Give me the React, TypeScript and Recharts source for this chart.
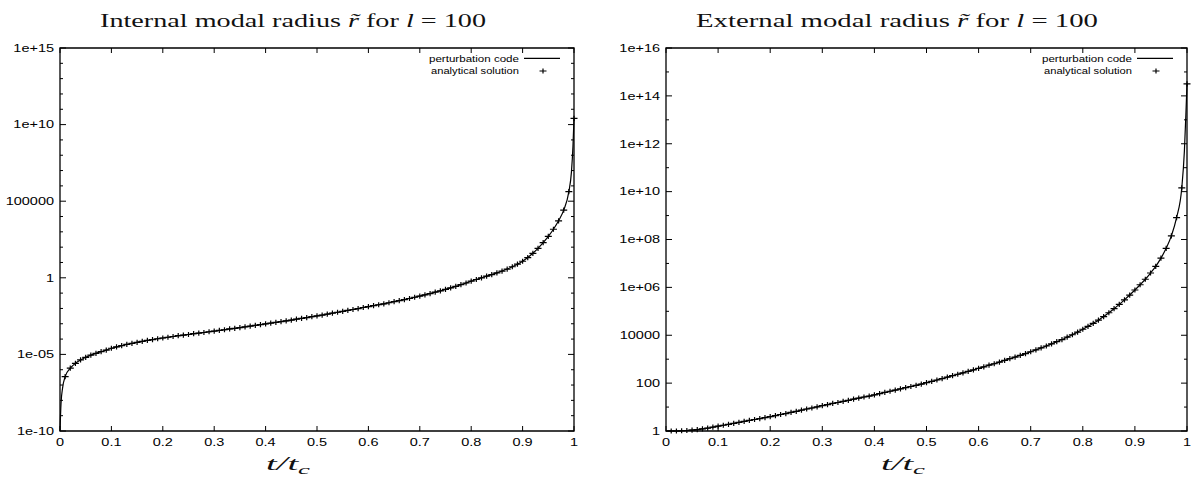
import { ComposedChart, Line, Scatter, XAxis, YAxis, ReferenceArea } from 'recharts'

// t / t_c sampling of the analytical solution markers
const T_GRID = [
  0.01, 0.02, 0.03, 0.04, 0.05, 0.06, 0.07, 0.08, 0.09, 0.1,
  0.11, 0.12, 0.13, 0.14, 0.15, 0.16, 0.17, 0.18, 0.19, 0.2,
  0.21, 0.22, 0.23, 0.24, 0.25, 0.26, 0.27, 0.28, 0.29, 0.3,
  0.31, 0.32, 0.33, 0.34, 0.35, 0.36, 0.37, 0.38, 0.39, 0.4,
  0.41, 0.42, 0.43, 0.44, 0.45, 0.46, 0.47, 0.48, 0.49, 0.5,
  0.51, 0.52, 0.53, 0.54, 0.55, 0.56, 0.57, 0.58, 0.59, 0.6,
  0.61, 0.62, 0.63, 0.64, 0.65, 0.66, 0.67, 0.68, 0.69, 0.7,
  0.71, 0.72, 0.73, 0.74, 0.75, 0.76, 0.77, 0.78, 0.79, 0.8,
  0.81, 0.82, 0.83, 0.84, 0.85, 0.86, 0.87, 0.88, 0.89, 0.9,
  0.91, 0.92, 0.93, 0.94, 0.95, 0.96, 0.97, 0.98, 0.99, 1,
]

// log10 of internal modal radius
const INTERNAL_LOG = [
  -6.45, -5.9, -5.58, -5.36, -5.19, -5.05, -4.93, -4.82, -4.72, -4.6,
  -4.51, -4.43, -4.35, -4.28, -4.21, -4.15, -4.09, -4.03, -3.98, -3.93,
  -3.88, -3.83, -3.78, -3.74, -3.7, -3.65, -3.61, -3.57, -3.52, -3.48,
  -3.43, -3.39, -3.34, -3.3, -3.25, -3.2, -3.16, -3.11, -3.06, -3.01,
  -2.96, -2.91, -2.86, -2.81, -2.76, -2.7, -2.65, -2.6, -2.54, -2.49,
  -2.43, -2.37, -2.31, -2.25, -2.19, -2.13, -2.07, -2.01, -1.94, -1.88,
  -1.82, -1.76, -1.7, -1.63, -1.56, -1.49, -1.42, -1.35, -1.27, -1.19,
  -1.11, -1.03, -0.94, -0.85, -0.76, -0.66, -0.56, -0.45, -0.34, -0.22,
  -0.11, 0.0, 0.11, 0.21, 0.32, 0.44, 0.57, 0.72, 0.89, 1.08,
  1.32, 1.6, 1.92, 2.29, 2.7, 3.17, 3.72, 4.42, 5.62, 10.4,
]

// log10 of external modal radius
const EXTERNAL_LOG = [
  0.0, 0.0, 0.01, 0.02, 0.04, 0.06, 0.09, 0.12, 0.16, 0.2,
  0.24, 0.28, 0.32, 0.36, 0.4, 0.44, 0.48, 0.52, 0.56, 0.6,
  0.64, 0.69, 0.73, 0.78, 0.82, 0.87, 0.92, 0.96, 1.01, 1.06,
  1.1, 1.15, 1.19, 1.24, 1.28, 1.33, 1.37, 1.42, 1.46, 1.51,
  1.56, 1.61, 1.66, 1.71, 1.76, 1.81, 1.86, 1.91, 1.96, 2.02,
  2.07, 2.13, 2.19, 2.25, 2.31, 2.37, 2.43, 2.49, 2.55, 2.62,
  2.68, 2.75, 2.81, 2.88, 2.95, 3.02, 3.09, 3.16, 3.23, 3.31,
  3.39, 3.47, 3.55, 3.64, 3.73, 3.82, 3.92, 4.02, 4.13, 4.25,
  4.37, 4.5, 4.63, 4.78, 4.94, 5.11, 5.29, 5.48, 5.68, 5.89,
  6.11, 6.34, 6.6, 6.88, 7.22, 7.63, 8.15, 8.91, 10.16, 14.5,
]

// extra points of the perturbation-code curve near the ends
const INTERNAL_HEAD_T = [0, 0.002, 0.005]
const INTERNAL_HEAD_LOG = [-10, -8.2, -7.2]
const INTERNAL_TAIL_T = [0.995, 0.998]
const INTERNAL_TAIL_LOG = [6.9, 8.6]
const EXTERNAL_HEAD_T = [0]
const EXTERNAL_HEAD_LOG = [0]
const EXTERNAL_TAIL_T = [0.995, 0.998]
const EXTERNAL_TAIL_LOG = [11.7, 13.3]

const X_TICKS = [0, 0.1, 0.2, 0.3, 0.4, 0.5, 0.6, 0.7, 0.8, 0.9, 1]
const X_TICK_LABELS = ['0', '0.1', '0.2', '0.3', '0.4', '0.5', '0.6', '0.7', '0.8', '0.9', '1']

const INTERNAL_Y_TICKS = [
  1e-10, 1e-9, 1e-8, 1e-7, 1e-6, 1e-5, 1e-4, 1e-3, 1e-2, 1e-1, 1,
  10, 100, 1e3, 1e4, 1e5, 1e6, 1e7, 1e8, 1e9, 1e10, 1e11, 1e12, 1e13, 1e14, 1e15,
]
const INTERNAL_MAJOR = [1e-10, 1e-5, 1, 1e5, 1e10, 1e15]
const INTERNAL_MAJOR_LABELS = ['1e-10', '1e-05', '1', '100000', '1e+10', '1e+15']

const EXTERNAL_Y_TICKS = [
  1, 10, 100, 1e3, 1e4, 1e5, 1e6, 1e7, 1e8, 1e9, 1e10, 1e11, 1e12, 1e13, 1e14, 1e15, 1e16,
]
const EXTERNAL_MAJOR = [1, 100, 1e4, 1e6, 1e8, 1e10, 1e12, 1e14, 1e16]
const EXTERNAL_MAJOR_LABELS = ['1', '100', '10000', '1e+06', '1e+08', '1e+10', '1e+12', '1e+14', '1e+16']

const PANEL_W = 596
const PANEL_H = 488
const PLOT_TOP = 48
const PLOT_H = 383
const TICK_FONT = '"Liberation Sans", Arial, sans-serif'
const STRETCH = 1.38

const toPoints = (ts: number[], logs: number[]) => ts.map((t, i) => ({ t, r: Math.pow(10, logs[i]) }))

const Cross = (props: any) => {
  const { cx, cy } = props
  if (cx == null || cy == null) return null
  return (
    <path
      d={`M${cx - 3.5},${cy}H${cx + 3.5}M${cx},${cy - 2.6}V${cy + 2.6}`}
      stroke="#000"
      strokeWidth={1.2}
      fill="none"
    />
  )
}

const makeXTick = () => (props: any) => {
  const { x, y, payload } = props
  const i = X_TICKS.indexOf(payload.value)
  return (
    <g>
      <line x1={x} x2={x} y1={y} y2={y - 5} stroke="#000" />
      <line x1={x} x2={x} y1={y - PLOT_H} y2={y - PLOT_H + 5} stroke="#000" />
      <text
        transform={`translate(${x} ${y + 15}) scale(${STRETCH} 1)`}
        textAnchor="middle"
        fontFamily={TICK_FONT}
        fontSize={10.5}
        fill="#000"
      >
        {X_TICK_LABELS[i]}
      </text>
    </g>
  )
}

const makeYTick = (majors: number[], labels: string[], plotW: number) => (props: any) => {
  const { x, y, payload } = props
  const left = x + 6
  const i = majors.indexOf(payload.value)
  const len = i >= 0 ? 6 : 3
  return (
    <g>
      <line x1={left} x2={left + len} y1={y} y2={y} stroke="#000" />
      <line x1={left + plotW} x2={left + plotW - len} y1={y} y2={y} stroke="#000" />
      {i >= 0 && (
        <text
          transform={`translate(${x} ${y}) scale(${STRETCH} 1)`}
          dy="0.36em"
          textAnchor="end"
          fontFamily={TICK_FONT}
          fontSize={10.5}
          fill="#000"
        >
          {labels[i]}
        </text>
      )}
    </g>
  )
}

type PanelProps = {
  line: { t: number; r: number }[]
  markers: { t: number; r: number }[]
  domain: [number, number]
  yTicks: number[]
  majors: number[]
  labels: string[]
  axisW: number
  rightMargin: number
}

const Panel = ({ line, markers, domain, yTicks, majors, labels, axisW, rightMargin }: PanelProps) => {
  const plotW = PANEL_W - axisW - rightMargin
  return (
    <ComposedChart
      width={PANEL_W}
      height={PANEL_H}
      margin={{ top: PLOT_TOP, right: rightMargin, bottom: PANEL_H - PLOT_TOP - PLOT_H - 20, left: 0 }}
    >
      <XAxis
        dataKey="t"
        type="number"
        domain={[0, 1]}
        ticks={X_TICKS}
        interval={0}
        height={20}
        tickSize={0}
        tickMargin={0}
        axisLine={false}
        tickLine={false}
        tick={makeXTick()}
      />
      <YAxis
        dataKey="r"
        type="number"
        scale="log"
        domain={domain}
        ticks={yTicks}
        interval={0}
        width={axisW}
        tickSize={0}
        tickMargin={6}
        axisLine={false}
        tickLine={false}
        tick={makeYTick(majors, labels, plotW)}
      />
      <ReferenceArea x1={0} x2={1} y1={domain[0]} y2={domain[1]} fill="none" stroke="#000" strokeWidth={1.3} />
      <Line
        data={line}
        dataKey="r"
        type="monotone"
        stroke="#000"
        strokeWidth={1.2}
        dot={false}
        isAnimationActive={false}
      />
      <Scatter data={markers} dataKey="r" shape={<Cross />} isAnimationActive={false} />
    </ComposedChart>
  )
}

const SERIF = '"Liberation Serif", "Times New Roman", serif'
const LEGEND_FONT = '"Liberation Sans", Arial, sans-serif'

// gnuplot-style key, placed relative to the right edge of the plot box
const Key = ({ right }: { right: number }) => (
  <g fontFamily={LEGEND_FONT} fontSize={9} fill="#000">
    <text x={right - 55} y={61.5} textAnchor="end" textLength={90} lengthAdjust="spacingAndGlyphs">perturbation code</text>
    <line x1={right - 50} x2={right - 14} y1={58.3} y2={58.3} stroke="#000" strokeWidth={1.2} />
    <text x={right - 55} y={74} textAnchor="end" textLength={88} lengthAdjust="spacingAndGlyphs">analytical solution</text>
    <path d={`M${right - 34.5},71H${right - 27.5}M${right - 31},68.4V73.6`} stroke="#000" strokeWidth={1.2} />
  </g>
)

const XLabel = ({ cx }: { cx: number }) => (
  <text x={cx} y={470} textAnchor="middle" fontFamily={SERIF} fontSize={18} fontStyle="italic" textLength={44} lengthAdjust="spacingAndGlyphs" fill="#111">
    t/t<tspan fontSize={12.5} dy={4}>c</tspan>
  </text>
)

export default function App() {
  const internalLine = [
    ...toPoints(INTERNAL_HEAD_T, INTERNAL_HEAD_LOG),
    ...toPoints(T_GRID, INTERNAL_LOG).filter((p) => p.t < 1),
    ...toPoints(INTERNAL_TAIL_T, INTERNAL_TAIL_LOG),
    ...toPoints(T_GRID, INTERNAL_LOG).filter((p) => p.t === 1),
  ]
  const externalLine = [
    ...toPoints(EXTERNAL_HEAD_T, EXTERNAL_HEAD_LOG),
    ...toPoints(T_GRID, EXTERNAL_LOG).filter((p) => p.t < 1),
    ...toPoints(EXTERNAL_TAIL_T, EXTERNAL_TAIL_LOG),
    ...toPoints(T_GRID, EXTERNAL_LOG).filter((p) => p.t === 1),
  ]
  const internalMarkers = toPoints(T_GRID, INTERNAL_LOG)
  const externalMarkers = toPoints(T_GRID, EXTERNAL_LOG)

  return (
    <div style={{ position: 'absolute', left: 0, top: 0, width: 1192, height: 488, background: '#fff', overflow: 'hidden' }}>
      <div style={{ position: 'absolute', left: 0, top: 0 }}>
        <Panel
          line={internalLine}
          markers={internalMarkers}
          domain={[1e-10, 1e15]}
          yTicks={INTERNAL_Y_TICKS}
          majors={INTERNAL_MAJOR}
          labels={INTERNAL_MAJOR_LABELS}
          axisW={60}
          rightMargin={22}
        />
      </div>
      <div style={{ position: 'absolute', left: 596, top: 0 }}>
        <Panel
          line={externalLine}
          markers={externalMarkers}
          domain={[1, 1e16]}
          yTicks={EXTERNAL_Y_TICKS}
          majors={EXTERNAL_MAJOR}
          labels={EXTERNAL_MAJOR_LABELS}
          axisW={70}
          rightMargin={5}
        />
      </div>
      <svg width={1192} height={488} style={{ position: 'absolute', left: 0, top: 0, pointerEvents: 'none' }}>
        <text x={293} y={27} textAnchor="middle" fontFamily={SERIF} fontSize={18} textLength={386} lengthAdjust="spacingAndGlyphs" fill="#111">
          Internal modal radius <tspan fontStyle="italic">r̃</tspan> for <tspan fontStyle="italic">l</tspan> = 100
        </text>
        <text x={897} y={27} textAnchor="middle" fontFamily={SERIF} fontSize={18} textLength={402} lengthAdjust="spacingAndGlyphs" fill="#111">
          External modal radius <tspan fontStyle="italic">r̃</tspan> for <tspan fontStyle="italic">l</tspan> = 100
        </text>
        <XLabel cx={288} />
        <XLabel cx={903} />
        <Key right={574} />
        <Key right={1187} />
      </svg>
    </div>
  )
}
